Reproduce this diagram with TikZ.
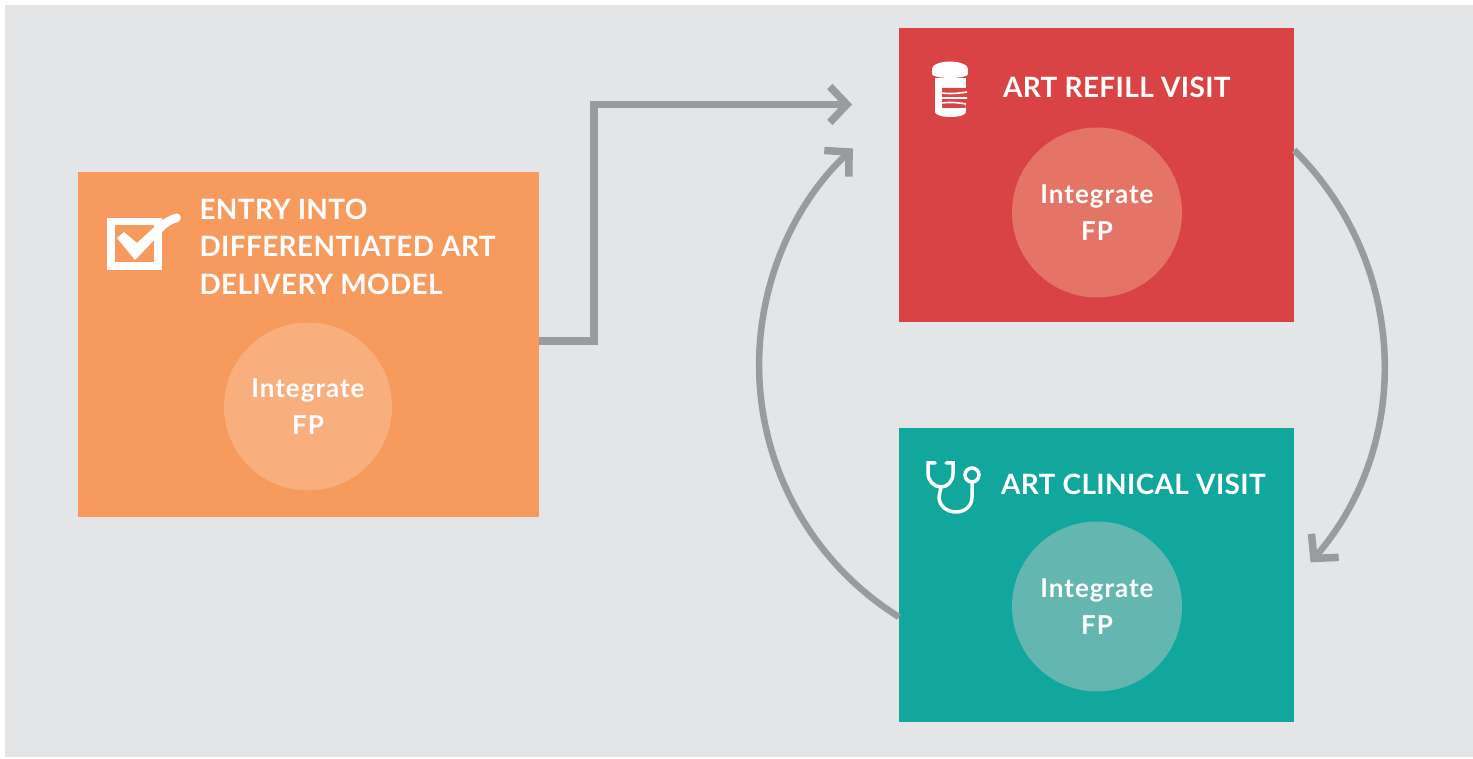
\documentclass[tikz,border=0pt]{standalone}
\usepackage{fontspec}
\setmainfont{Lato}
\newfontfamily\headfont[LetterSpace=1.3]{Lato Bold}
\newfontfamily\fpfont[LetterSpace=3.8]{Lato Bold}
\usetikzlibrary{arrows.meta,calc}
\definecolor{bgcol}{HTML}{E4E5E7}
\definecolor{orangecol}{HTML}{F79A5E}
\definecolor{orangecirc}{HTML}{F9AE7E}
\definecolor{redcol}{HTML}{DA4345}
\definecolor{redcirc}{HTML}{E47466}
\definecolor{tealcol}{HTML}{11A79C}
\definecolor{tealcirc}{HTML}{64B7B0}
\definecolor{linecol}{HTML}{9A9B9D}
\tikzset{
  x=1pt,y=1pt,
  panel/.style={minimum width=#1,inner sep=0pt,outer sep=0pt},
  fpcircle/.style={circle,minimum size=168pt,inner sep=0pt,fill=#1,text=white,align=center,font=\fpfont\fontsize{26}{37}\selectfont},
  heading/.style={text=white,inner sep=0pt,outer sep=0pt,align=left,font=\headfont\fontsize{28}{37.5}\selectfont},
  flow/.style={draw=linecol,line width=#1,-{Straight Barb[length=17pt,width=36pt,line width=7.5pt]}},
  icon/.style={draw=white,line width=#1,fill=none}
}
\begin{document}
\begin{tikzpicture}
\useasboundingbox (0,0) rectangle (1473,758);
\fill[white] (0,0) rectangle (1473,758);
\fill[bgcol] (5,1) rectangle (1473,753);

\node[panel=461pt,minimum height=345pt,fill=orangecol] (entry) at (308.5,413.5) {};
\node[panel=395pt,minimum height=294pt,fill=redcol] (refill) at (1096.5,583) {};
\node[panel=395pt,minimum height=294pt,fill=tealcol] (clinical) at (1096.5,183) {};

\node[fpcircle=orangecirc] (c1) at (308,351.5) {Integrate\\FP};
\node[fpcircle=redcirc,minimum size=170pt] (c2) at (1097,545.5) {Integrate\\FP};
\node[fpcircle=tealcirc,minimum size=170pt] (c3) at (1097,151.5) {Integrate\\FP};

\node[heading,anchor=north west] (t1) at (199.5,559) {ENTRY INTO\\DIFFERENTIATED ART\\DELIVERY MODEL};
\node[heading,anchor=base west] (t2) at (1003,660) {ART REFILL VISIT};
\node[heading,anchor=base west] (t3) at (1001,263) {ART CLINICAL VISIT};

% connectors
\coordinate (e1) at ($(entry.east)+(0,3.5)$);
\coordinate (k1) at (594,417);
\coordinate (k2) at (594,653.5);
\coordinate (tipA) at (852,653.5);
\draw[flow=7.5pt,line join=miter] (e1) -- (k1) -- (k2) -- (tipA);

\coordinate (e2) at ($(refill.east)+(0,25)$);
\draw[flow=6.5pt] (e2) arc[start angle=45.4,end angle=-40.8,radius=302];

\coordinate (e3) at ($(clinical.west)+(0,-42)$);
\draw[flow=6.5pt] (e3) arc[start angle=238.07,end angle=133.2,radius=297];

% checkbox icon
\draw[icon=7.5pt] (111,492) rectangle (158,536.5);
\fill[white] (117,520) -- (124,526) -- (137,515) -- (162,538) .. controls (168,541) and (172,544) .. (177,544.5) .. controls (181.5,544.5) and (182,537.5) .. (178,536) .. controls (172,534.5) and (169,532) .. (165,529) -- (135,498) -- cycle;

% bottle icon
\fill[white] (935,681) rectangle (966,646);
\fill[white] (950.5,646) ellipse[x radius=15.5,y radius=5];
\fill[redcol] (942,670) -- (966.5,670) -- (965.5,650) -- (942,650) -- cycle;
\draw[white,line width=1.6pt] (942,665) .. controls (950,664) and (958,664.5) .. (967,666) (942,660) -- (967,660) (942,655) .. controls (950,656) and (958,655.5) .. (966,654);
\fill[redcol] (932,680) rectangle (968,684);
\fill[white] (932,684) rectangle (968,689);
\fill[white] (950,689) ellipse[x radius=18,y radius=7.5];
\fill[white] (950,684) ellipse[x radius=18,y radius=4];

% stethoscope icon
\draw[icon=3.5pt,line cap=round] (935,295) -- (928,295) -- (928,285) .. controls (928,277) and (934,271) .. (941,271) .. controls (948,271) and (953,277) .. (953,285) -- (953,295) -- (946,295);
\draw[icon=3.5pt,line cap=round] (941,271) -- (939,261) .. controls (939,252) and (947,246) .. (956,246) .. controls (965,246) and (972,252) .. (972,261) -- (972,276);
\draw[icon=3.5pt] (972,283) circle[radius=7];
\end{tikzpicture}
\end{document}
